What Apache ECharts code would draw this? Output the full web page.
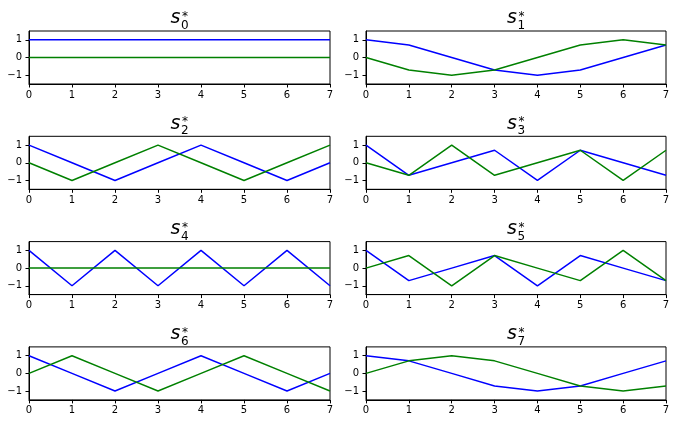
<!DOCTYPE html>
<html>
<head>
<meta charset="utf-8">
<script src="https://cdn.jsdelivr.net/npm/echarts@6/dist/echarts.min.js"></script>
<style>
  html, body { margin: 0; padding: 0; background: #fff; }
  #chart { width: 676px; height: 424px; }
</style>
</head>
<body>
<div id="chart"></div>
<script>
// sample index n
const xTicks = [0, 1, 2, 3, 4, 5, 6, 7];
const yTicks = [-1, 0, 1];
const subIdx = ['0', '1', '2', '3', '4', '5', '6', '7'];

// blue line (real part) of each s_k*
const blueVals = [
  [1, 1, 1, 1, 1, 1, 1, 1],
  [1, 0.71, 0, -0.71, -1, -0.71, 0, 0.71],
  [1, 0, -1, 0, 1, 0, -1, 0],
  [1, -0.71, 0, 0.71, -1, 0.71, 0, -0.71],
  [1, -1, 1, -1, 1, -1, 1, -1],
  [1, -0.71, 0, 0.71, -1, 0.71, 0, -0.71],
  [1, 0, -1, 0, 1, 0, -1, 0],
  [1, 0.71, 0, -0.71, -1, -0.71, 0, 0.71]
];
// green line (imag part)
const greenVals = [
  [0, 0, 0, 0, 0, 0, 0, 0],
  [0, -0.71, -1, -0.71, 0, 0.71, 1, 0.71],
  [0, -1, 0, 1, 0, -1, 0, 1],
  [0, -0.71, 1, -0.71, 0, 0.71, -1, 0.71],
  [0, 0, 0, 0, 0, 0, 0, 0],
  [0, 0.71, -1, 0.71, 0, -0.71, 1, -0.71],
  [0, 1, 0, -1, 0, 1, 0, -1],
  [0, 0.71, 1, 0.71, 0, -0.71, -1, -0.71]
];

const FONT = 'DejaVu Sans';
const lefts = [29, 366];
const widths = [301, 300];
const plotH = 53;
const rowTop = r => 31 + 105.3 * r;

const grids = [], xAxes = [], yAxes = [], series = [], graphics = [];

for (let k = 0; k < 8; k++) {
  const col = k % 2, row = Math.floor(k / 2);
  const top = rowTop(row);
  grids.push({
    left: lefts[col], top: top, width: widths[col], height: plotH,
    show: true, borderColor: '#000', borderWidth: 1, backgroundColor: 'transparent'
  });
  xAxes.push({
    type: 'value', gridIndex: k, min: 0, max: 7, interval: 1,
    axisLine: { show: true, onZero: false, lineStyle: { color: '#000', width: 1 } },
    axisTick: { show: true, length: 3.5, lineStyle: { color: '#000' } },
    axisLabel: { color: '#000', fontSize: 10, fontFamily: FONT, margin: 6 },
    splitLine: { show: false }
  });
  yAxes.push({
    type: 'value', gridIndex: k, min: -1.5, max: 1.5,
    axisLine: { show: true, onZero: false, lineStyle: { color: '#000', width: 1 } },
    axisTick: { show: true, length: 3.5, customValues: yTicks, lineStyle: { color: '#000' } },
    axisLabel: {
      color: '#000', fontSize: 10, fontFamily: FONT, margin: 7, customValues: yTicks,
      formatter: v => v < 0 ? '\u2212' + Math.abs(v) : String(v)
    },
    splitLine: { show: false }
  });
  series.push({
    type: 'line', xAxisIndex: k, yAxisIndex: k, symbol: 'none', animation: false,
    lineStyle: { color: '#0000ff', width: 1.5 },
    data: xTicks.map((x, i) => [x, blueVals[k][i]])
  });
  series.push({
    type: 'line', xAxisIndex: k, yAxisIndex: k, symbol: 'none', animation: false,
    lineStyle: { color: '#008000', width: 1.5 },
    data: xTicks.map((x, i) => [x, greenVals[k][i]])
  });

  // title  s_k^*
  const cx = lefts[col] + widths[col] / 2;
  graphics.push({
    type: 'text', left: cx - 9, top: top - 22,
    style: { text: 's', fontSize: 19, fontStyle: 'italic', fontFamily: FONT, fill: '#000' }
  });
  graphics.push({
    type: 'text', left: cx + 1.5, top: top - 11,
    style: { text: subIdx[k], fontSize: 12, fontFamily: FONT, fill: '#000' }
  });
  graphics.push({
    type: 'text', left: cx + 2.5, top: top - 20,
    style: { text: '*', fontSize: 12, fontFamily: FONT, fill: '#000' }
  });
}

const chart = echarts.init(document.getElementById('chart'), null, { renderer: 'canvas' });
chart.setOption({
  backgroundColor: '#fff',
  animation: false,
  grid: grids,
  xAxis: xAxes,
  yAxis: yAxes,
  series: series,
  graphic: graphics
});
</script>
</body>
</html>
